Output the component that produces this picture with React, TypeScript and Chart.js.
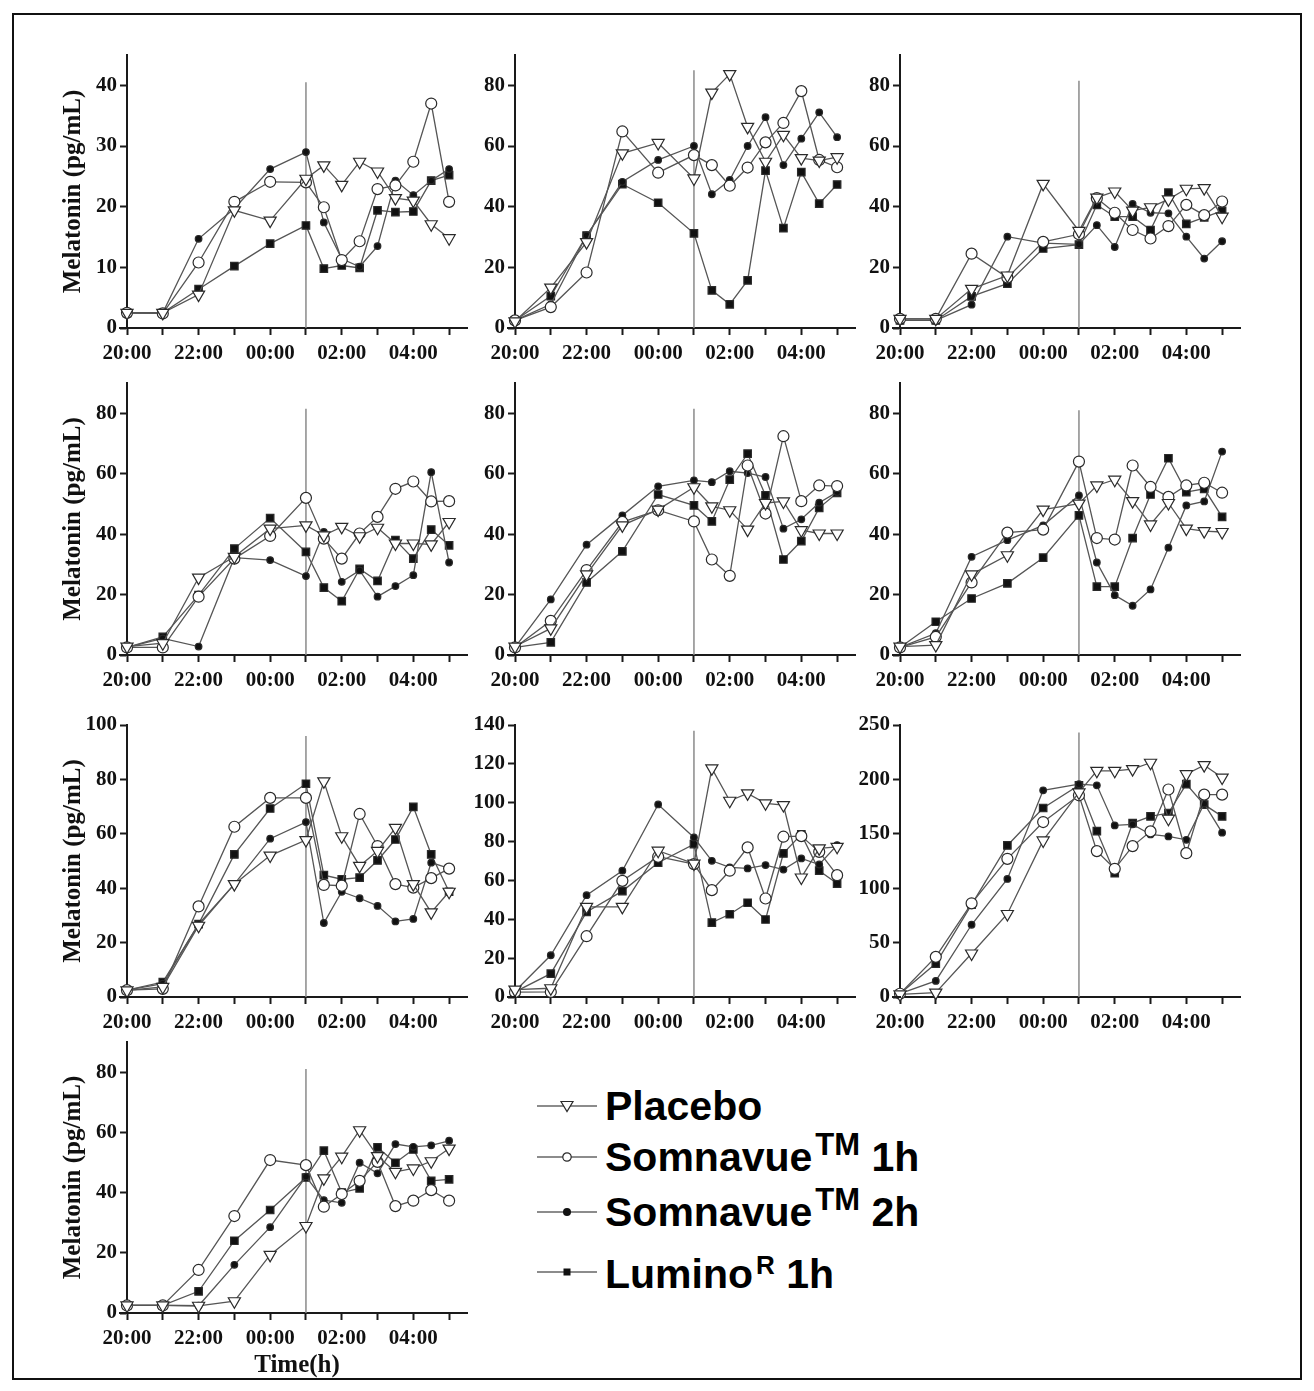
import React, { useEffect, useRef } from 'react';
import { Chart, registerables } from 'chart.js';

Chart.register(...registerables);

// ---------------- data ----------------
const TIMES = [0, 1, 2, 3, 4, 5, 5.5, 6, 6.5, 7, 7.5, 8, 8.5, 9]; // hours after 20:00
const X_TICK_VALUES = [0, 2, 4, 6, 8];
const X_TICK_LABELS = ['20:00', '22:00', '00:00', '02:00', '04:00'];
const DOSE_TIME = 5; // 01:00 marker line

const PLACEBO_1 = [2.5, 2.5, 5.5, 19.4, 17.7, 24.6, 26.8, 23.6, 27.4, 25.8, 21.4, 21, 17.1, 14.8];
const SOM1H_1 = [2.5, 2.4, 10.8, 20.8, 24.1, 24, 19.9, 11.2, 14.3, 22.9, 23.5, 27.4, 37, 20.8];
const SOM2H_1 = [2.5, 2.5, 14.7, 19.7, 26.2, 29, 17.4, 11.4, 10.1, 13.5, 24.3, 21.9, 24.3, 26.2];
const LUMINO_1 = [2.5, 2.5, 6.4, 10.2, 13.9, 16.9, 9.8, 10.3, 9.9, 19.4, 19.1, 19.2, 24.3, 25.2];

const PLACEBO_2 = [2.2, 13.3, 28.3, 57.6, 61, 49.3, 77.6, 83.7, 66.3, 54.8, 63.7, 56, 55.2, 56.3];
const SOM1H_2 = [2.5, 6.9, 18.3, 64.8, 51.2, 57, 53.7, 46.9, 52.9, 61.2, 67.6, 78.1, 55.4, 53];
const SOM2H_2 = [2.5, 7.8, 30.5, 48.2, 55.4, 60, 44.1, 48.8, 60, 69.5, 53.7, 62.4, 71.1, 62.9];
const LUMINO_2 = [2.5, 10.5, 30.5, 47.4, 41.3, 31.2, 12.4, 7.8, 15.7, 51.9, 32.9, 51.4, 41, 47.3];

const PLACEBO_3 = [3, 3, 12.9, 17.3, 47.5, 32, 43, 45, 38.7, 39.8, 42.4, 45.9, 46.1, 36.7];
const SOM1H_3 = [3, 3, 24.5, 16.6, 28.4, 30.9, 42.8, 38, 32.3, 29.5, 33.6, 40.6, 37.2, 41.7];
const SOM2H_3 = [2.5, 2.5, 7.7, 30.1, 28, 27.6, 33.9, 26.7, 40.9, 38, 37.8, 30.1, 22.9, 28.6];
const LUMINO_3 = [2.5, 2.5, 10.4, 14.6, 26.2, 27.5, 40.6, 36.7, 36.7, 32.3, 44.6, 34.3, 36.5, 38.6];

const PLACEBO_4 = [2.8, 3.9, 25.6, 32.5, 41.8, 42.9, 39.6, 42.4, 39.3, 42.1, 36.9, 36.9, 36.6, 44];
const SOM1H_4 = [2.5, 2.5, 19.3, 31.9, 39.4, 52, 38.5, 31.9, 40.2, 45.7, 55, 57.4, 50.8, 50.9];
const SOM2H_4 = [2.5, 5.5, 2.8, 32.2, 31.4, 26.1, 40.7, 24.2, 28, 19.3, 22.8, 26.4, 60.5, 30.6];
const LUMINO_4 = [2.5, 6, 19.8, 35.2, 45.3, 34.1, 22.3, 17.8, 28.5, 24.5, 38, 31.9, 41.5, 36.3];

const PLACEBO_5 = [2.8, 8.8, 26.7, 42.9, 48.1, 55.5, 49.2, 47.9, 41.5, 50.3, 50.8, 41.3, 40.2, 40.2];
const SOM1H_5 = [2.5, 11.3, 28.1, 44, 47.9, 44.2, 31.6, 26.2, 62.7, 46.8, 72.4, 50.9, 56.1, 55.9];
const SOM2H_5 = [2.5, 18.4, 36.5, 46.2, 55.8, 57.8, 57.2, 60.8, 60.2, 58.9, 41.8, 44.9, 50.4, 53.9];
const LUMINO_5 = [2.5, 4.2, 24, 34.3, 53.1, 49.5, 44.2, 58, 66.6, 52.8, 31.6, 37.7, 48.7, 53.6];

const PLACEBO_6 = [2.8, 3.3, 26.7, 33, 48.1, 50.1, 56.1, 58, 50.9, 43.2, 50.3, 41.8, 41, 40.7];
const SOM1H_6 = [2.5, 6, 24, 40.5, 41.5, 64, 38.7, 38.2, 62.7, 55.6, 52.3, 56.1, 57, 53.7];
const SOM2H_6 = [2.5, 7.2, 32.5, 38, 42.9, 52.8, 30.6, 19.8, 16.3, 21.7, 35.5, 49.5, 50.8, 67.3];
const LUMINO_6 = [2.5, 11, 18.7, 23.7, 32.2, 46.2, 22.6, 22.6, 38.7, 53.1, 65.1, 53.9, 55, 45.7];

const PLACEBO_7 = [2.4, 3.7, 26.2, 41.5, 52, 57.7, 79.3, 59.1, 48.2, 53.7, 62.2, 41.5, 31.1, 38.7];
const SOM1H_7 = [2.5, 3, 33.3, 62.6, 73.2, 73.2, 41.2, 40.9, 67.3, 55.5, 41.5, 40.2, 43.7, 47.2];
const SOM2H_7 = [2.5, 4.9, 26.8, 41.5, 58.2, 64.3, 27.2, 38.7, 36.3, 33.5, 27.8, 28.7, 49.4, 47.3];
const LUMINO_7 = [2.5, 5.5, 26.8, 52.4, 69.3, 78.4, 44.8, 43.3, 43.9, 50.2, 57.9, 69.9, 52.4, 38.7];

const PLACEBO_8 = [3.8, 4.5, 46.4, 46.4, 75.3, 68.7, 117.7, 101, 104.8, 99.7, 98.8, 61.5, 76.5, 77.3];
const SOM1H_8 = [2.5, 2.6, 31.3, 59.8, 72.2, 68.4, 55, 65, 77, 50.7, 82.5, 82.8, 74.7, 62.7];
const SOM2H_8 = [3, 21.5, 52.4, 65, 99.1, 82.1, 70.1, 66.7, 66.2, 67.9, 65.6, 71.3, 68.2, 78.2];
const LUMINO_8 = [2.6, 12, 43.8, 54.5, 69.1, 78.7, 38.3, 42.6, 48.5, 39.9, 73.9, 83.7, 65, 58.4];

const PLACEBO_9 = [2.5, 4, 40, 76.3, 143.9, 188, 207.9, 207.9, 209.4, 215.3, 163.9, 204.8, 213.1, 201.7];
const SOM1H_9 = [3, 36.9, 86.1, 127, 160.8, 185.4, 134.1, 117.8, 138.7, 152.2, 190.7, 132.2, 186, 186];
const SOM2H_9 = [3, 14.8, 66.4, 108.5, 190, 195.6, 194.6, 157.7, 158.7, 149.4, 147.6, 144.5, 177.7, 151];
const LUMINO_9 = [3, 30.7, 84.9, 139.3, 173.7, 194.6, 152.5, 113.8, 159.9, 166, 169.1, 195.6, 176.8, 166];

const PLACEBO_10 = [2.5, 2.5, 2.4, 3.9, 19.3, 28.9, 44.7, 51.9, 60.7, 52.1, 46.9, 48, 50.4, 54.6];
const SOM1H_10 = [2.5, 2.5, 14.3, 32.2, 50.8, 49.1, 35.3, 39.5, 43.9, 50.2, 35.5, 37.3, 40.8, 37.3];
const SOM2H_10 = [2.5, 2.5, 2.4, 16, 28.5, 45.3, 37.5, 36.6, 49.9, 46.4, 56.1, 55.2, 55.7, 57.2];
const LUMINO_10 = [2.5, 2.5, 7.2, 24, 34.2, 45, 53.9, 40, 41.4, 55, 49.9, 54.3, 43.9, 44.4];

const PLACEBO = [PLACEBO_1, PLACEBO_2, PLACEBO_3, PLACEBO_4, PLACEBO_5, PLACEBO_6, PLACEBO_7, PLACEBO_8, PLACEBO_9, PLACEBO_10];
const SOM1H = [SOM1H_1, SOM1H_2, SOM1H_3, SOM1H_4, SOM1H_5, SOM1H_6, SOM1H_7, SOM1H_8, SOM1H_9, SOM1H_10];
const SOM2H = [SOM2H_1, SOM2H_2, SOM2H_3, SOM2H_4, SOM2H_5, SOM2H_6, SOM2H_7, SOM2H_8, SOM2H_9, SOM2H_10];
const LUMINO = [LUMINO_1, LUMINO_2, LUMINO_3, LUMINO_4, LUMINO_5, LUMINO_6, LUMINO_7, LUMINO_8, LUMINO_9, LUMINO_10];

const Y_MAX = [45, 90, 90, 90, 90, 90, 100, 140, 250, 90];
const Y_STEP = [10, 20, 20, 20, 20, 20, 20, 20, 50, 20];
const VLINE_TOP = [40.5, 85, 81.5, 81.5, 81.5, 81, 96, 137, 243, 81];

const SERIES_NAMES = ['Placebo', 'Somnavue™ 1h', 'Somnavue™ 2h', 'Lumino® 1h'];
const LEGEND_MAIN = ['Placebo', 'Somnavue', 'Somnavue', 'Lumino'];
const LEGEND_SUP = ['', 'TM', 'TM', 'R'];
const LEGEND_TAIL = ['', ' 1h', ' 2h', ' 1h'];
const Y_TITLE = 'Melatonin (pg/mL)';
const X_TITLE = 'Time(h)';

// ---------------- layout / style ----------------
const PANEL_COL = [0, 1, 2, 0, 1, 2, 0, 1, 2, 0];
const PANEL_ROW = [0, 0, 0, 1, 1, 1, 2, 2, 2, 3];
const COL_LEFT = [127, 515, 900];
const ROW_TOP = [55, 383, 725, 1042];
const ROW_BOTTOM = [328, 655, 997, 1313];
const PLOT_W = 340;
const X_MAX = 9.5;
const YW = 68;
const PAD_TOP = 16;
const PAD_RIGHT = 10;
const XH = 45;
const XH_TITLE = 68;

const AXIS_COLOR = '#1a1a1a';
const TEXT_COLOR = '#111';
const LINE_COLOR = '#555';
const MARKER_COLOR = '#2a2a2a';
const SERIF = '"Liberation Serif", "Times New Roman", serif';
const SANS = '"Liberation Sans", Arial, sans-serif';

const STYLES = [
  { pointStyle: 'triangle', rotation: 180, radius: 7, bg: '#ffffff' },
  { pointStyle: 'circle', rotation: 0, radius: 5.5, bg: '#ffffff' },
  { pointStyle: 'circle', rotation: 0, radius: 3.3, bg: '#111111' },
  { pointStyle: 'rect', rotation: 0, radius: 5.3, bg: '#111111' },
];

const axisExtension = {
  id: 'axisExtension',
  afterDraw(chart: any) {
    const { ctx, chartArea } = chart;
    ctx.save();
    ctx.strokeStyle = AXIS_COLOR;
    ctx.lineWidth = 2;
    ctx.beginPath();
    const y = Math.round(chartArea.bottom);
    ctx.moveTo(chartArea.left - 8, y);
    ctx.lineTo(chartArea.left + 1, y);
    ctx.stroke();
    ctx.restore();
  },
};

function Panel({ i }: { i: number }) {
  const ref = useRef<HTMLCanvasElement | null>(null);
  const col = PANEL_COL[i];
  const row = PANEL_ROW[i];
  const hasXTitle = i === 9;
  const xh = hasXTitle ? XH_TITLE : XH;
  const plotH = ROW_BOTTOM[row] - ROW_TOP[row];
  const left = COL_LEFT[col] - YW;
  const top = ROW_TOP[row] - PAD_TOP;
  const width = YW + PLOT_W + PAD_RIGHT;
  const height = PAD_TOP + plotH + xh;

  useEffect(() => {
    const series = [PLACEBO[i], SOM1H[i], SOM2H[i], LUMINO[i]];
    const datasets: any[] = series.map((vals, s) => ({
      type: 'line',
      label: SERIES_NAMES[s],
      data: TIMES.map((t, k) => ({ x: t, y: vals[k] })),
      borderColor: LINE_COLOR,
      borderWidth: 1.3,
      pointStyle: STYLES[s].pointStyle,
      pointRotation: STYLES[s].rotation,
      pointRadius: STYLES[s].radius,
      pointHoverRadius: STYLES[s].radius,
      pointBackgroundColor: STYLES[s].bg,
      pointBorderColor: MARKER_COLOR,
      pointBorderWidth: 1.2,
      tension: 0,
      clip: false,
      order: s,
    }));
    datasets.push({
      type: 'line',
      label: 'dose',
      data: [
        { x: DOSE_TIME, y: 0 },
        { x: DOSE_TIME, y: VLINE_TOP[i] },
      ],
      borderColor: '#8a8a8a',
      borderWidth: 1.5,
      pointRadius: 0,
      pointHoverRadius: 0,
      clip: false,
      order: 10,
    });

    const tickFont = { family: SERIF, size: 21, weight: 'bold' as const };
    const chart = new Chart(ref.current as HTMLCanvasElement, {
      type: 'line',
      data: { datasets },
      plugins: [axisExtension],
      options: {
        responsive: false,
        animation: false,
        events: [],
        layout: { padding: { top: PAD_TOP, right: PAD_RIGHT, left: 0, bottom: 0 } },
        plugins: { legend: { display: false }, tooltip: { enabled: false } },
        scales: {
          x: {
            type: 'linear',
            min: 0,
            max: X_MAX,
            afterFit: (s: any) => {
              s.height = xh;
            },
            border: { display: true, color: AXIS_COLOR, width: 2 },
            grid: {
              display: true,
              drawOnChartArea: false,
              drawTicks: true,
              tickLength: 7,
              tickWidth: 2,
              tickColor: AXIS_COLOR,
            },
            ticks: {
              stepSize: 1,
              autoSkip: false,
              maxRotation: 0,
              minRotation: 0,
              includeBounds: false,
              padding: 6,
              color: TEXT_COLOR,
              font: tickFont,
              callback: (v: any) => {
                const idx = X_TICK_VALUES.indexOf(Number(v));
                return idx >= 0 ? X_TICK_LABELS[idx] : '';
              },
            },
            title: {
              display: hasXTitle,
              text: X_TITLE,
              color: TEXT_COLOR,
              font: { family: SERIF, size: 25, weight: 'bold' },
              padding: 0,
            },
          },
          y: {
            type: 'linear',
            min: 0,
            max: Y_MAX[i],
            afterFit: (s: any) => {
              s.width = YW;
            },
            border: { display: true, color: AXIS_COLOR, width: 2 },
            grid: {
              display: true,
              drawOnChartArea: false,
              drawTicks: true,
              tickLength: 7,
              tickWidth: 2,
              tickColor: AXIS_COLOR,
            },
            ticks: {
              stepSize: Y_STEP[i],
              includeBounds: false,
              padding: 3,
              color: TEXT_COLOR,
              font: tickFont,
            },
            title: {
              display: col === 0,
              text: Y_TITLE,
              color: TEXT_COLOR,
              font: { family: SERIF, size: 25, weight: 'bold' },
              padding: 0,
            },
          },
        },
      } as any,
    });
    return () => chart.destroy();
  }, [i]);

  return (
    <canvas
      ref={ref}
      width={width}
      height={height}
      style={{ position: 'absolute', left, top, width, height }}
    />
  );
}

function LegendMarker({ s }: { s: number }) {
  const cx = 30;
  const cy = 10;
  let marker: any = null;
  if (s === 0) marker = <polygon points={`${cx - 6},${cy - 4.5} ${cx + 6},${cy - 4.5} ${cx},${cy + 5.5}`} fill="#fff" stroke={MARKER_COLOR} strokeWidth={1.2} />;
  if (s === 1) marker = <circle cx={cx} cy={cy} r={4.2} fill="#fff" stroke={MARKER_COLOR} strokeWidth={1.2} />;
  if (s === 2) marker = <circle cx={cx} cy={cy} r={4} fill="#111" />;
  if (s === 3) marker = <rect x={cx - 3.5} y={cy - 3.5} width={7} height={7} fill="#111" />;
  return (
    <svg width={60} height={20} style={{ display: 'block' }}>
      <line x1={0} y1={cy} x2={60} y2={cy} stroke="#666" strokeWidth={1.3} />
      {marker}
    </svg>
  );
}

const LEGEND_LINE_Y = [1106, 1157, 1212, 1272];
const LEGEND_BASELINE = [1121, 1172, 1227, 1289];
const LEGEND_SUP_SIZE = [0, 31, 31, 26];
const LEGEND_SUP_RAISE = [0, 16, 16, 14];

function Legend() {
  return (
    <>
      {SERIES_NAMES.map((name, s) => (
        <React.Fragment key={name}>
          <div style={{ position: 'absolute', left: 537, top: LEGEND_LINE_Y[s] - 10 }}>
            <LegendMarker s={s} />
          </div>
          <div
            style={{
              position: 'absolute',
              left: 605,
              top: LEGEND_BASELINE[s] - 34.7,
              fontFamily: SANS,
              fontWeight: 'bold',
              fontSize: 41,
              lineHeight: '41px',
              color: '#000',
              whiteSpace: 'pre',
            }}
          >
            {LEGEND_MAIN[s]}
            {LEGEND_SUP[s] ? (
              <span
                style={{
                  position: 'relative',
                  top: -LEGEND_SUP_RAISE[s],
                  fontSize: LEGEND_SUP_SIZE[s],
                  marginLeft: 3,
                }}
              >
                {LEGEND_SUP[s]}
              </span>
            ) : null}
            {LEGEND_TAIL[s]}
          </div>
        </React.Fragment>
      ))}
    </>
  );
}

export default function App() {
  return (
    <div
      style={{
        position: 'absolute',
        left: 0,
        top: 0,
        width: 1314,
        height: 1391,
        background: '#fff',
        overflow: 'hidden',
      }}
    >
      <div
        style={{
          position: 'absolute',
          left: 12,
          top: 13,
          width: 1290,
          height: 1367,
          border: '2px solid #111',
          boxSizing: 'border-box',
        }}
      />
      {PLACEBO.map((_, i) => (
        <Panel key={i} i={i} />
      ))}
      <Legend />
    </div>
  );
}
